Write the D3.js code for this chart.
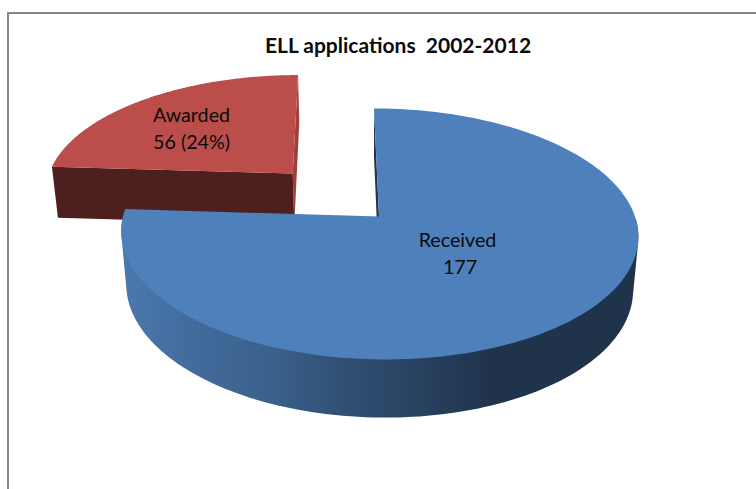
<!DOCTYPE html>
<html>
<head>
<meta charset="utf-8">
<script src="https://cdn.jsdelivr.net/npm/d3@7"></script>
<style>
  html, body { margin: 0; padding: 0; background: #fff; }
  svg { display: block; }
  text { font-family: Lato, "Open Sans", sans-serif; fill: #0b0b0b; white-space: pre; }
</style>
</head>
<body>
<svg id="chart" width="756" height="489"></svg>
<script>
// Chart content
const chartTitle = "ELL applications  2002-2012";
const categories = ["Received", "Awarded"];
const values = [177, 56];
const valueLabels = ["177", "56 (24%)"];

const width = 756, height = 489;
const svg = d3.select("#chart");

// Perspective camera for a pie of radius 1 lying on a plane.
// X points right, V points away from the viewer, H points down through the pie's thickness.
const cam = { x0: 379, y0: 216.5, bx: 256, vy: 93, vx: 47, c: 0.139, hy: 58.4, hx: 7.5, g: 0.02 };
function project(X, V, H) {
  const w = 1 + cam.c * V + cam.g * H;
  return [
    (cam.x0 + cam.bx * X + cam.vx * V + cam.hx * H) / w,
    (cam.y0 - cam.vy * V + cam.hy * H) / w
  ];
}

// Slices run clockwise from twelve o'clock in data order
const slices = d3.pie().sort(null).startAngle(0).endAngle(2 * Math.PI)(values);

// The smaller slice is pulled out of the pie, towards the back left
const explode = [[0, 0], [-0.346, 0.3675]];

const rimSteps = d3.range(0, 181).map(i => i / 180);
const lastStep = rimSteps.length - 1;
const path = d3.line();

function rim(slice, offset, H) {
  const angle = d3.scaleLinear().domain([0, 1]).range([slice.startAngle, slice.endAngle]);
  return rimSteps.map(t => project(offset[0] + Math.sin(angle(t)), offset[1] + Math.cos(angle(t)), H));
}
const apex = (offset, H) => project(offset[0], offset[1], H);

// Shading across the outer wall of the large slice
const wallX = d3.scaleLinear().domain([0, 1]).range([122, 639]);
const wallStops = [
  [0.00, "#4b78ad"], [0.12, "#436d9f"], [0.30, "#3a5f8a"],
  [0.45, "#2f4d70"], [0.58, "#28415f"], [0.72, "#1f334b"], [1.00, "#1f334b"]
];
const grad = svg.append("defs").append("linearGradient")
  .attr("id", "wallShade")
  .attr("gradientUnits", "userSpaceOnUse")
  .attr("x1", wallX(0)).attr("x2", wallX(1)).attr("y1", 0).attr("y2", 0);
grad.selectAll("stop").data(wallStops).join("stop")
  .attr("offset", d => d[0]).attr("stop-color", d => d[1]);

// Chart frame: only the top and left edges fall inside the view
svg.append("path")
  .attr("d", path([[8, height], [8, 13], [width, 13]]))
  .attr("fill", "none").attr("stroke", "#868686").attr("stroke-width", 2);

// Awarded slice, back to front
{
  const s = slices[1], o = explode[1];
  const top = rim(s, o, 0), bottom = rim(s, o, 1);
  const a0 = apex(o, 0), a1 = apex(o, 1);
  // inner wall on the right of the slice
  svg.append("path")
    .attr("d", path([a0, top[lastStep], bottom[lastStep], a1]) + "Z")
    .attr("fill", "#a33e3b");
  // cut face towards the viewer
  svg.append("path")
    .attr("d", path([a0, top[0], bottom[0], a1]) + "Z")
    .attr("fill", "#4d1f1e");
  svg.append("path")
    .attr("d", path([a0, ...top]) + "Z")
    .attr("fill", "#bb4e4b");
}

// Received slice
{
  const s = slices[0], o = explode[0];
  const top = rim(s, o, 0), bottom = rim(s, o, 1);
  const a0 = apex(o, 0), a1 = apex(o, 1);
  // outer wall: hull of the front halves of both rims, so the silhouette runs straight between them
  const front = [...top, ...bottom].filter(p => p[1] >= a0[1]);
  svg.append("path")
    .attr("d", path(d3.polygonHull(front)) + "Z")
    .attr("fill", "url(#wallShade)");
  // inner wall at twelve o'clock
  svg.append("path")
    .attr("d", path([a0, top[0], bottom[0], a1]) + "Z")
    .attr("fill", "#1f334b");
  svg.append("path")
    .attr("d", path([a0, ...top]) + "Z")
    .attr("fill", "#4e80bc");
}

// Title
svg.append("text")
  .attr("x", 398).attr("y", 53)
  .attr("text-anchor", "middle")
  .attr("font-size", 21).attr("font-weight", 700)
  .text(chartTitle);

// Slice labels: name on the first line, value on the second
const labelPos = [[457.5, 247], [191.5, 122]];
const valueNudge = [2.5, 0];
const labels = svg.selectAll("g.label").data(categories).join("g")
  .attr("class", "label")
  .attr("transform", (d, i) => `translate(${labelPos[i]})`);
labels.append("text").attr("text-anchor", "middle").attr("font-size", 19.7).text(d => d);
labels.append("text").attr("text-anchor", "middle").attr("font-size", 19.7).attr("y", 27)
  .attr("x", (d, i) => valueNudge[i])
  .text((d, i) => valueLabels[i]);
</script>
</body>
</html>
